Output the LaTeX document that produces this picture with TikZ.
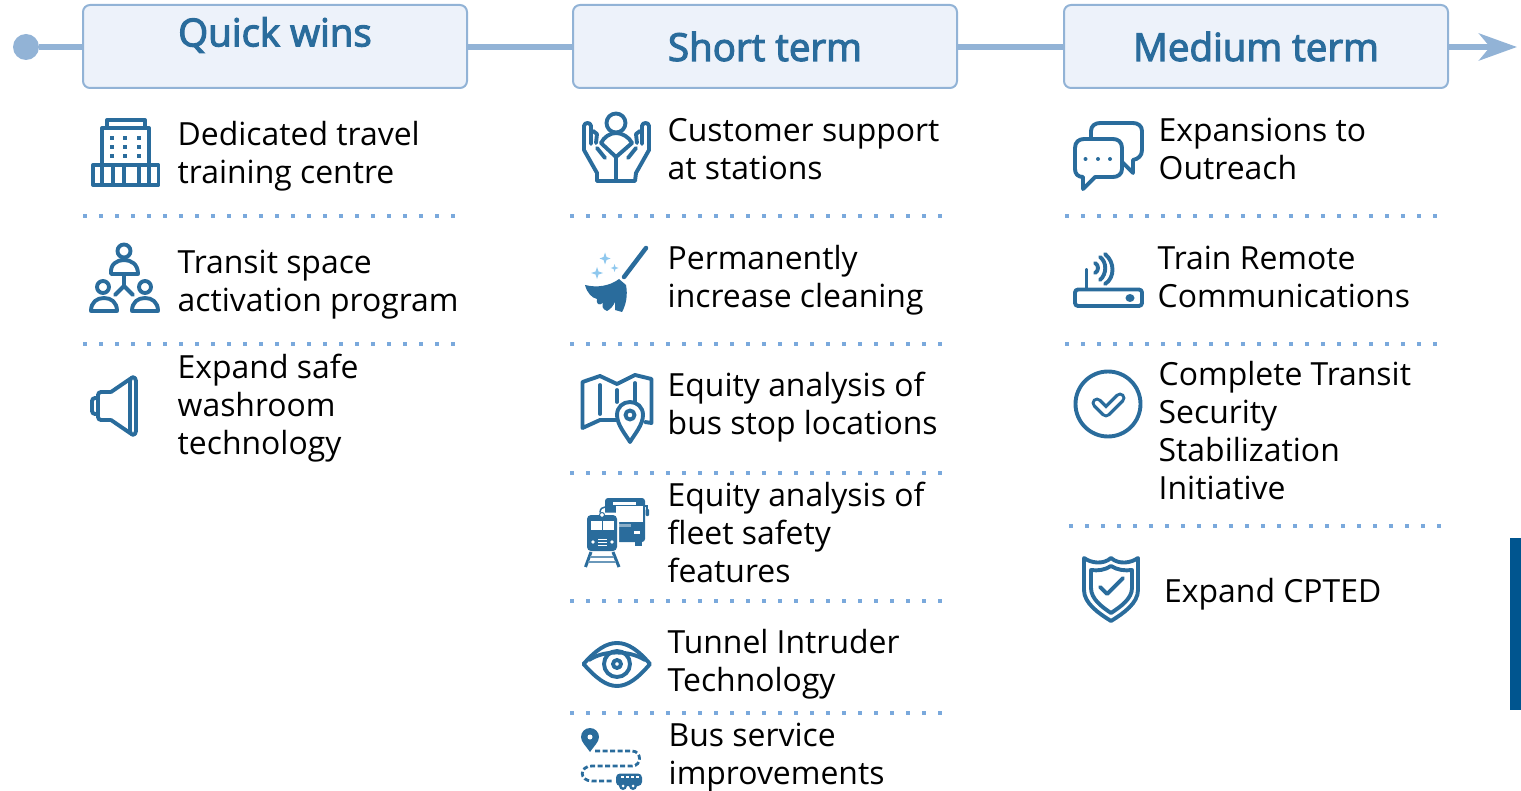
\documentclass[tikz,border=0pt]{standalone}
\usepackage{fontspec}
\setmainfont{Open Sans}
\newfontfamily\headfont[FakeBold=3]{Open Sans}
\usetikzlibrary{arrows.meta}
\definecolor{ink}{HTML}{2A6C9C}
\definecolor{rail}{HTML}{92B3D6}
\definecolor{boxfill}{HTML}{EDF2FA}
\definecolor{dots}{HTML}{7AA9DC}
\definecolor{spark}{HTML}{8FC8EE}
\definecolor{bar}{HTML}{00558F}
\tikzset{
  x=1pt,y=-1pt,
  header/.style={draw=rail,line width=2pt,fill=boxfill,rounded corners=7pt,minimum width=384pt,minimum height=83pt,inner sep=0pt},
  title/.style={text=ink,font=\headfont\fontsize{38.5}{40}\selectfont,inner sep=0pt},
  item/.style={anchor=base west,align=left,inner sep=0pt,text=black,font=\fontsize{31.9}{38}\selectfont},
  conn/.style={draw=rail,line width=6pt},
  sep/.style={draw=dots,line width=4pt,dash pattern=on 4pt off 12pt},
  icon/.style={draw=ink,line width=3.9pt,line join=round,line cap=round},
}
\begin{document}
\begin{tikzpicture}
\useasboundingbox (0,0) rectangle (1521,791);
% header row
\node[circle,fill=rail,minimum size=26pt,inner sep=0pt] (start) at (26,47) {};
\node[header] (h1) at (275,46.5) {};
\node[header] (h2) at (765,46.5) {};
\node[header] (h3) at (1256,46.5) {};
\node[title] (t1) at (275,35) {Quick wins};
\node[title] (t2) at (765,46.5) {Short term};
\node[title] (t3) at (1256,46.5) {Medium term};
\coordinate (tip) at (1517,47);
\draw[conn] (start.east) -- (start.east -| h1.west);
\draw[conn] (start.east -| h1.east) -- (start.east -| h2.west);
\draw[conn] (start.east -| h2.east) -- (start.east -| h3.west);
\draw[draw=rail,line width=6pt,-{Stealth[length=38pt,width=27pt,inset=11pt,fill=rail]}] (start.east -| h3.east) -- (tip);
% side bar
\fill[bar] (1510,538) rectangle (1521,710);
% separators
\foreach \y in {216.5,344.5} \draw[sep] (83,\y) -- (456,\y);
\foreach \y in {216.5,344.5,472.5,600.5,713} \draw[sep] (570,\y) -- (943,\y);
\foreach \y in {216.5,344.5} \draw[sep] (1065,\y) -- (1438,\y);
\draw[sep] (1069,525.5) -- (1442,525.5);
% texts
\node[item] (a1) at (177.5,184) {Dedicated travel\\training centre};
\node[item] (a2) at (177.5,312) {Transit space\\activation program};
\node[item] (a3) at (177.5,454) {Expand safe\\washroom\\technology};
\node[item] (b1) at (667.5,180) {Customer support\\at stations};
\node[item] (b2) at (667.5,308) {Permanently\\increase cleaning};
\node[item] (b3) at (667.5,435) {Equity analysis of\\bus stop locations};
\node[item] (b4) at (667.5,582) {Equity analysis of\\fleet safety\\features};
\node[item] (b5) at (667.5,691) {Tunnel Intruder\\Technology};
\node[item] (b6) at (668.5,784) {Bus service\\improvements};
\node[item] (c1) at (1158.5,180) {Expansions to\\Outreach};
\node[item] (c2) at (1157.5,308) {Train Remote\\Communications};
\node[item] (c3) at (1158.5,499) {Complete Transit\\Security\\Stabilization\\Initiative};
\node[item] (c4) at (1164,602) {Expand CPTED};
% building
\draw[icon] (107,128) -- (107,120) -- (145,120) -- (145,128);
\draw[icon] (102,165) -- (102,128) -- (149,128) -- (149,165);
\draw[icon] (93,165) rectangle (158.5,185);
\draw[icon] (102,165) -- (102,185) (113,165) -- (113,185) (124,165) -- (124,185) (139,165) -- (139,185) (149,165) -- (149,185);
\foreach \x in {112,125,139} \foreach \y in {138,147,156} \fill[ink] (\x-2,\y-2) rectangle (\x+2,\y+2);
% people
\draw[icon] (124,251) circle (6.5);
\draw[icon] (111,274) .. controls (110,264) and (117,260) .. (124,260) .. controls (131,260) and (138,264) .. (138,274) -- cycle;
\draw[icon] (124,274) -- (124,286) -- (115,295) (124,286) -- (133,295);
\draw[icon] (103,287) circle (6);
\draw[icon] (91,311) .. controls (91,302) and (97,298) .. (104,298) .. controls (111,298) and (117,302) .. (117,311) -- cycle;
\draw[icon] (145,287) circle (6);
\draw[icon] (132,311) .. controls (132,302) and (138,298) .. (145,298) .. controls (152,298) and (158,302) .. (158,311) -- cycle;
% speaker
\draw[icon,rounded corners=3pt] (98,398) -- (92,398) -- (92,414) -- (98,414);
\draw[icon,rounded corners=3pt] (111,392) -- (98,392) -- (98,420) -- (111,420);
\draw[icon] (111,392) -- (130,379) (111,420) -- (130,433);
\draw[icon] (130,381) .. controls (130,376) and (136,376) .. (136,381) -- (136,431) .. controls (136,436) and (130,436) .. (130,431) -- cycle;
% hands
\draw[icon] (616,123) circle (9.5);
\draw[icon] (601,143) .. controls (604,137) and (610,133) .. (616,133) .. controls (622,133) and (629,137) .. (632,143);
\draw[icon] (597,181) -- (635,181) -- (636,173) -- (649,150) -- (649,126) .. controls (649,122) and (642,122) .. (642,126) -- (642,144);
\draw[icon] (597,181) -- (597,173) -- (584,150) -- (584,126) .. controls (584,122) and (591,122) .. (591,126) -- (591,144);
\draw[icon] (593,131) -- (597,134) -- (596,143) (640,131) -- (636,134) -- (637,143);
\draw[icon] (601,143) -- (616,157) -- (632,143);
\draw[icon] (616,157) -- (616,181);
\draw[icon] (597,148) -- (605,158) (636,148) -- (628,158);
% broom
\draw[icon,line width=4.5pt] (646,248) -- (624,277);
\fill[ink] (585,285) .. controls (597,288) and (610,286) .. (619,279) -- (626,285) .. controls (628,295) and (626,305) .. (622,312) -- (615,310) -- (615,302) .. controls (613,306) and (611,309) .. (607,311) .. controls (602,309) and (602,306) .. (603,303) .. controls (599,306) and (596,304) .. (597,299) .. controls (592,298) and (587,293) .. cycle;
\fill[spark] (605,252.5) -- (606.5,257) -- (610.5,258.5) -- (606.5,260) -- (605,264.5) -- (603.5,260) -- (599.5,258.5) -- (603.5,257) -- cycle;
\fill[spark] (597,267) -- (598.5,271.5) -- (603,273) -- (598.5,274.5) -- (597,279) -- (595.5,274.5) -- (591,273) -- (595.5,271.5) -- cycle;
\fill[spark] (614.5,264) -- (615.5,267) -- (618.5,268) -- (615.5,269) -- (614.5,272) -- (613.5,269) -- (610.5,268) -- (613.5,267) -- cycle;
% map
\draw[icon] (624,421) -- (617,420) -- (600,420) -- (582.5,428) -- (582.5,382) -- (600,376) -- (617,384) -- (635,375) -- (651.5,379) -- (651.5,423) -- (645,422);
\draw[icon] (600,385) -- (600,414) (617,390) -- (617,402) (635,383) -- (635,403);
\draw[icon,fill=white] (630,442) .. controls (626,435) and (617,425) .. (617,415) .. controls (617,407) and (623,402) .. (630,402) .. controls (637,402) and (643,407) .. (643,415) .. controls (643,425) and (634,435) .. (630,442) -- cycle;
\draw[icon] (630,415) circle (4.5);
% bus and train
\fill[ink,rounded corners=3pt] (605,498) rectangle (645,542);
\fill[ink] (635,541) rectangle (642,546);
\fill[white] (616,506) rectangle (643,522);
\fill[white] (613,502) rectangle (636,505);
\fill[white] (634,531) rectangle (640,534);
\fill[ink!55!white] (619,524) rectangle (631,527);
\draw[ink,line width=2pt] (645,506) -- (647,506) -- (647,511);
\fill[ink,rounded corners=1pt] (645.5,509) rectangle (649,516);
\draw[ink,line width=1.5pt] (600,513) .. controls (600,509) and (602,507) .. (605,507);
\fill[white,rounded corners=4pt] (585,512.5) rectangle (619,553);
\fill[ink,rounded corners=4pt] (587,515) rectangle (617,551);
\fill[white] (591,521) rectangle (602,530);
\fill[white] (603,521) rectangle (614,530);
\fill[white] (602,515) circle (2);
\draw[ink,line width=1pt] (602,515) circle (2.5);
\fill[white] (593,542) circle (1.8);
\fill[white] (612,542) circle (1.8);
\draw[white,line width=0.8pt] (598,539) -- (607,539) (598,542) -- (607,542) (598,545) -- (607,545);
\draw[ink,line width=3pt] (591,552) -- (585.5,567) (613,552) -- (619,567);
\draw[ink!70!white,line width=1.2pt] (590,557) -- (614,557) (588,562) -- (616,562);
% eye
\draw[icon] (583.5,664) .. controls (596,650) and (606,643) .. (617,643) .. controls (628,643) and (638,650) .. (650,664) .. controls (638,678) and (628,686) .. (617,686) .. controls (606,686) and (596,678) .. cycle;
\draw[icon] (589,660) .. controls (604,650) and (629,650) .. (645,660);
\draw[icon] (617,664) circle (13);
\draw[icon] (617,664) circle (4);
% route
\fill[ink] (590,752) .. controls (586,746) and (581,742) .. (581,737) .. controls (581,732) and (585,728) .. (590,728) .. controls (595,728) and (599,732) .. (599,737) .. controls (599,742) and (594,746) .. cycle;
\fill[white] (590,737) circle (2.5);
\draw[ink,line width=2.8pt,dash pattern=on 5pt off 2.5pt] (595,751) -- (632,751) .. controls (642,751) and (642,766) .. (632,766) -- (592,766) .. controls (579,766) and (579,781) .. (592,781) -- (612,781);
\fill[ink,rounded corners=4pt] (616,773.5) rectangle (642,786);
\foreach \x in {621,626,631,636} \fill[white] (\x,775.5) rectangle (\x+3,778);
\foreach \x in {623,633} { \fill[ink] (\x,786) circle (4); \fill[white] (\x,786) circle (1.5); }
% chat
\draw[icon] (1091,138) -- (1091,131) .. controls (1091,126) and (1095,123) .. (1100,123) -- (1133,123) .. controls (1138,123) and (1142,126) .. (1142,131) -- (1142,150) .. controls (1142,156) and (1138,159) .. (1133,160) -- (1133,173) -- (1122,162);
\draw[icon] (1084,139) -- (1113,139) .. controls (1118,139) and (1122,142) .. (1122,148) -- (1122,169) .. controls (1122,174) and (1118,177) .. (1113,177) -- (1095,177) -- (1083,189) -- (1083,177) .. controls (1078,177) and (1075,174) .. (1075,169) -- (1075,148) .. controls (1075,142) and (1079,139) .. cycle;
\foreach \x in {1085.5,1098,1110} \fill[ink] (\x,159) circle (2);
% router
\draw[icon,rounded corners=3pt] (1075,289.5) rectangle (1142,306);
\fill[ink] (1130,298) ellipse (4.5 and 4);
\draw[icon] (1086.5,270) -- (1086.5,289);
\draw[icon] (1095,263) .. controls (1099,265) and (1099,271) .. (1095,273);
\draw[icon] (1100,257) .. controls (1107,262) and (1107,274) .. (1100,280);
\draw[icon] (1105,254) .. controls (1115,262) and (1115,278) .. (1105,284) ;
% check circle
\draw[icon] (1108,404) circle (32.5);
\draw[ink,line width=11pt,line join=round,line cap=round] (1097,403) -- (1106,412) -- (1120,398);
\draw[white,line width=4.5pt,line join=round,line cap=round] (1097,403) -- (1106,412) -- (1120,398);
% shield
\draw[icon] (1084,558) .. controls (1091,563) and (1103,565) .. (1111,558) .. controls (1119,565) and (1131,563) .. (1138,558) -- (1138,590) .. controls (1138,603) and (1124,613) .. (1111,621) .. controls (1098,613) and (1084,603) .. (1084,590) -- cycle;
\draw[icon] (1091,570) .. controls (1098,571) and (1105,570) .. (1111,566) .. controls (1117,570) and (1125,571) .. (1132,570) -- (1132,588) .. controls (1132,599) and (1120,607) .. (1111,613) .. controls (1102,607) and (1091,599) .. (1091,588) -- cycle;
\draw[icon] (1100,587) -- (1107,594) -- (1123,578);
\end{tikzpicture}
\end{document}
